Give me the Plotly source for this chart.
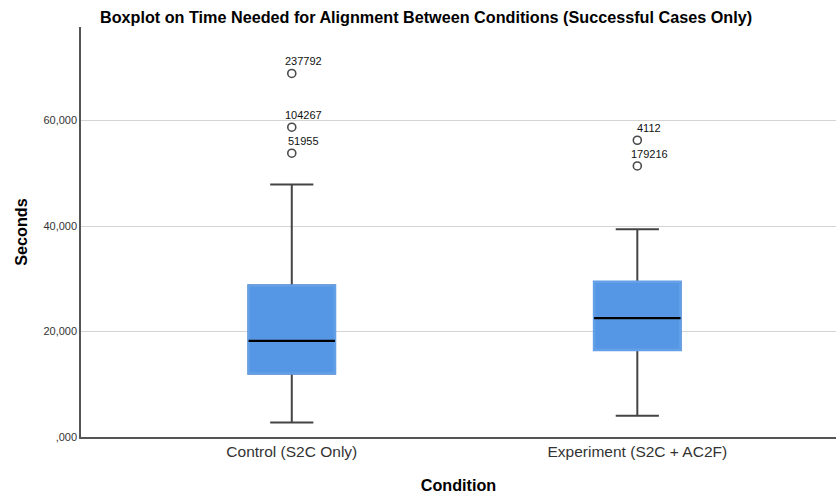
import plotly.graph_objects as go

# Summary statistics per condition (seconds)
conditions = ["Control (S2C Only)", "Experiment (S2C + AC2F)"]
q1 = [12040, 16530]
median = [18240, 22540]
q3 = [28720, 29420]
lower_whisker = [2750, 4020]
upper_whisker = [47870, 39410]

# Outliers with case labels
outlier_condition = ["Control (S2C Only)", "Control (S2C Only)", "Control (S2C Only)",
                     "Experiment (S2C + AC2F)", "Experiment (S2C + AC2F)"]
outlier_value = [68950, 58750, 53820, 56280, 51410]
outlier_label = ["237792", "104267", "51955", "4112", "179216"]

y_tick_vals = [0, 20000, 40000, 60000]
y_tick_text = [",000", "20,000", "40,000", "60,000"]

BLUE = "#5596e5"
WHISKER = "#444444"
FONT = "Liberation Sans, Arial, sans-serif"
BOX_W = 0.25

fig = go.Figure()

# Box with whiskers (dark outline, later covered)
fig.add_trace(go.Box(
    x=conditions, q1=q1, median=median, q3=q3,
    lowerfence=lower_whisker, upperfence=upper_whisker,
    fillcolor=BLUE, line=dict(color=WHISKER, width=2),
    whiskerwidth=0.5, width=BOX_W, boxpoints=False, hoverinfo="skip",
    showlegend=False,
))
# Cover the box outline with the fill colour
fig.add_trace(go.Box(
    x=conditions, q1=q1, median=median, q3=q3,
    lowerfence=q1, upperfence=q3,
    fillcolor=BLUE, line=dict(color="#64a0e8", width=2.6),
    whiskerwidth=0, width=BOX_W, boxpoints=False, hoverinfo="skip",
    showlegend=False,
))
# Median line
fig.add_trace(go.Box(
    x=conditions, q1=median, median=median, q3=median,
    lowerfence=median, upperfence=median,
    fillcolor="rgba(0,0,0,0)", line=dict(color="#000000", width=2.2),
    whiskerwidth=0, width=BOX_W, boxpoints=False, hoverinfo="skip",
    showlegend=False,
))
# Outlier markers
fig.add_trace(go.Scatter(
    x=outlier_condition, y=outlier_value, mode="markers",
    marker=dict(symbol="circle-open", size=8, color="#4a4a4a", line=dict(width=1.6)),
    showlegend=False, hoverinfo="skip",
))

annotations = [
    dict(x=c, y=v, text=t, showarrow=False, xshift=12, yshift=12,
         font=dict(family=FONT, size=11, color="#111111"),
         xanchor="center", yanchor="middle")
    for c, v, t in zip(outlier_condition, outlier_value, outlier_label)
]

fig.update_layout(
    width=836, height=496,
    margin=dict(l=81, r=0, t=27, b=59),
    paper_bgcolor="white", plot_bgcolor="white",
    boxmode="overlay",
    font=dict(family=FONT, color="#222222"),
    title=dict(
        text="<b>Boxplot on Time Needed for Alignment Between Conditions (Successful Cases Only)</b>",
        x=426 / 836, xanchor="center", y=1 - 17 / 496, yanchor="middle", xref="container",
        font=dict(family=FONT, size=16.2, color="#000000"),
    ),
    xaxis=dict(
        type="category", range=[-0.61, 1.575],
        showgrid=False, zeroline=False,
        showline=True, linecolor="#555555", linewidth=1.5,
        ticks="", tickfont=dict(family=FONT, size=15.5, color="#333333"),
        title=dict(text="<b>Condition</b>", font=dict(family=FONT, size=16.2, color="#000000"),
                   standoff=20),
    ),
    yaxis=dict(
        range=[0, 77760],
        tickvals=y_tick_vals, ticktext=y_tick_text,
        showgrid=True, gridcolor="#d4d4d4", gridwidth=1.2,
        zeroline=False,
        showline=True, linecolor="#555555", linewidth=1.5,
        ticks="", tickfont=dict(family=FONT, size=11, color="#333333"),
        title=dict(text="<b>Seconds</b>", font=dict(family=FONT, size=16.2, color="#000000"),
                   standoff=12),
    ),
    annotations=annotations,
)

fig.write_html("out.html")
